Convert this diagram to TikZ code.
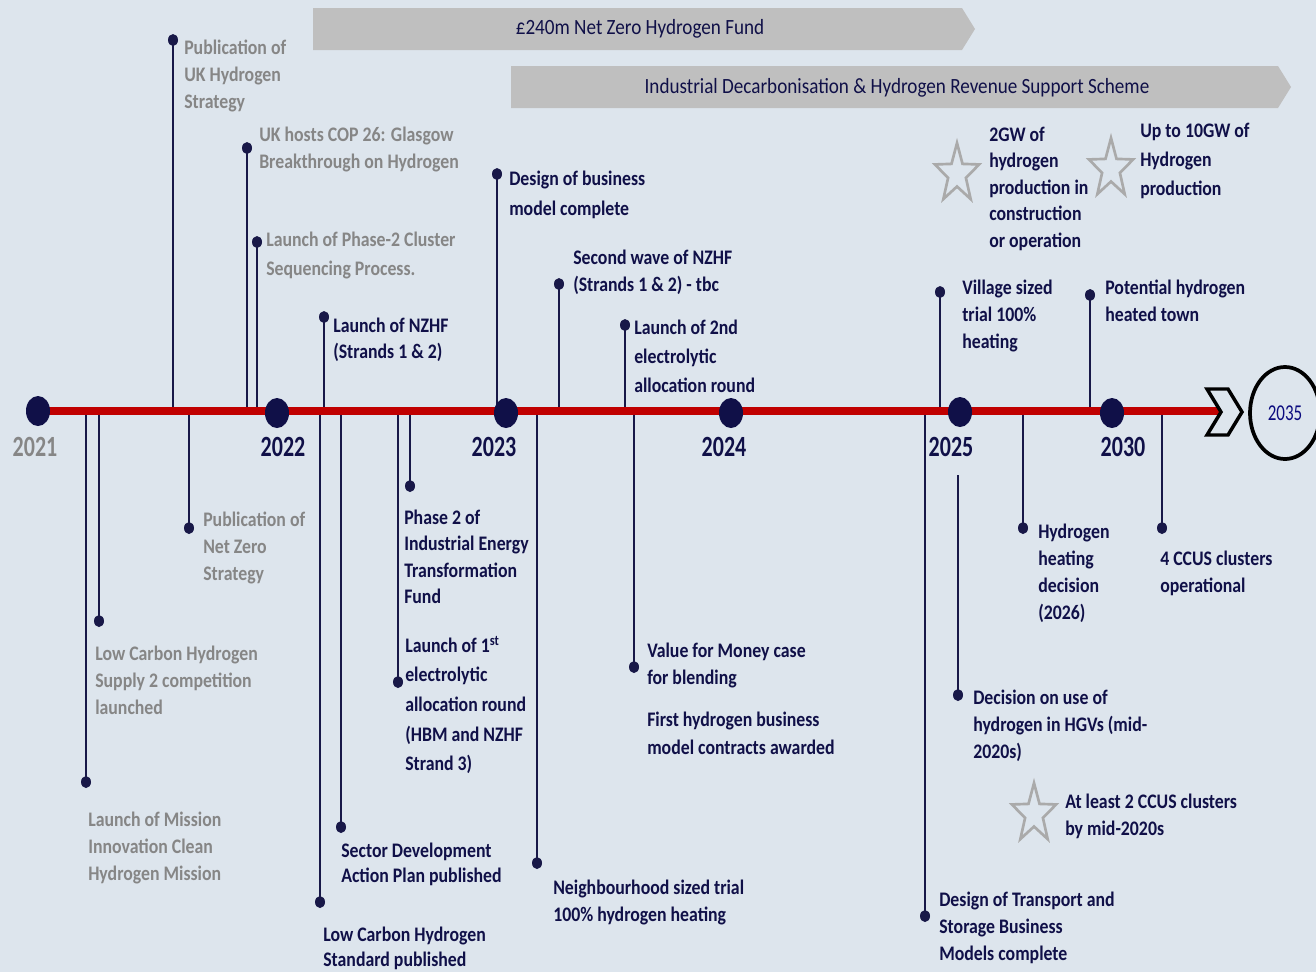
\documentclass[tikz,border=0pt]{standalone}
\usepackage{fontspec}
\setmainfont{Carlito}[FakeStretch=0.86]
\newfontfamily\yearfont{Carlito}[FakeStretch=0.75]
\newfontfamily\bannerfont{Carlito}[FakeStretch=0.88]
\definecolor{bg}{RGB}{221,229,237}
\definecolor{navy}{RGB}{16,16,72}
\definecolor{navyline}{RGB}{24,24,72}
\definecolor{graytext}{RGB}{134,134,134}
\definecolor{bannergray}{RGB}{191,191,191}
\definecolor{tlred}{RGB}{192,0,0}
\definecolor{stargray}{RGB}{170,170,170}
\newcommand{\ml}[1]{\begin{tabular}[t]{@{}l@{}}#1\end{tabular}}
\tikzset{
  conn/.style={draw=navyline, line width=1.5pt},
  lh/.style={font=\bfseries\fontsize{15.5}{#1}\selectfont},
  navytxt/.style={anchor=base west, inner sep=0pt, text=navy, lh=#1},
  graytxt/.style={anchor=base west, inner sep=0pt, text=graytext, lh=#1},
  yr/.style={inner sep=0pt, text=navy, font=\yearfont\bfseries\fontsize{22}{24}\selectfont},
  bannertxt/.style={inner sep=0pt, text=navy, font=\bannerfont\fontsize{16.3}{18}\selectfont},
  starline/.style={draw=stargray, line width=2pt, line join=miter},
  hstar/.pic={\draw[starline] (270:31) -- (306:12.5) -- (342:31) -- (18:12.5) -- (54:31) -- (90:12.5) -- (126:31) -- (162:12.5) -- (198:31) -- (234:12.5) -- cycle;}
}
\begin{document}
\begin{tikzpicture}[x=0.75pt, y=-0.75pt]
\fill[bg] (0,0) rectangle (1316,972);
\useasboundingbox (0,0) rectangle (1316,972);

% banners
\fill[bannergray] (313,8) -- (962,8) -- (975,29) -- (962,50) -- (313,50) -- cycle;
\node[bannertxt] (ban1) at (640,29) {£240m Net Zero Hydrogen Fund};
\fill[bannergray] (511,66) -- (1278,66) -- (1291,87) -- (1278,108) -- (511,108) -- cycle;
\node[bannertxt] (ban2) at (897,88) {Industrial Decarbonisation \& Hydrogen Revenue Support Scheme};

% main line points
\coordinate (m2021) at (38,411);
\coordinate (m2022) at (277,413);
\coordinate (m2023) at (506,413);
\coordinate (m2024) at (731,413);
\coordinate (m2025) at (960,412);
\coordinate (m2030) at (1112,413);
\coordinate (mend) at (1219,411);

% events
\foreach \n/\x/\y in {a1/173/40, a2/247/148, a3/257/242, a4/324/317, a5/497/174, a6/559/284, a7/625/325, a8/940/292, a9/1090/295,
  b1/86/782, b2/99/621, b3/189/528, b4/320/902, b5/341/827, b6/410/486, b7/398/682, b8/537/863, b9/634/667, b10/925/916, b12/1023/528, b13/1162/528}{
  \coordinate (\n base) at (\x,411);
  \coordinate (\n dot) at (\x,\y);
  \draw[conn] (\n base) -- (\n dot);
  \fill[navyline] (\n dot) ellipse [x radius=5, y radius=6];
}
\coordinate (b11top) at (958,475);
\coordinate (b11dot) at (958,695);
\draw[conn] (b11top) -- (b11dot);
\fill[navyline] (b11dot) ellipse [x radius=5, y radius=6];

% red timeline
\draw[tlred, line width=6pt] (m2021) -- (mend);
\foreach \m in {m2021,m2022,m2023,m2024,m2025,m2030}{
  \fill[navy] (\m) ellipse [x radius=12, y radius=15];
}
% chevron and 2035
\draw[black, line width=2.6pt, fill=bg, line join=miter] (1207,389) -- (1228,389) -- (1242,412) -- (1228,435) -- (1207,435) -- (1221,412) -- cycle;
\draw[black, line width=2.8pt] (1285,413) ellipse [x radius=35, y radius=46];
\node[inner sep=0pt, text=navy!70!blue, font=\yearfont\fontsize{17}{20}\selectfont] (y2035) at (1285,413) {2035};

% years
\node[yr, text=graytext] (y2021) at (35,447) {2021};
\node[yr] (y2022) at (283,447) {2022};
\node[yr] (y2023) at (494,447) {2023};
\node[yr] (y2024) at (724,447) {2024};
\node[yr] (y2025) at (951,447) {2025};
\node[yr] (y2030) at (1123,447) {2030};

% texts above
\node[graytxt=20.25pt] (a1t) at (184,54) {\ml{Publication of\\UK Hydrogen\\Strategy}};
\node[graytxt=20.25pt] (a2t) at (259,141) {\ml{UK hosts COP 26: Glasgow\\Breakthrough on Hydrogen}};
\node[graytxt=21.75pt] (a3t) at (266,246) {\ml{Launch of Phase-2 Cluster\\Sequencing Process.}};
\node[navytxt=19.5pt] (a4t) at (333,332) {\ml{Launch of NZHF\\(Strands 1 \& 2)}};
\node[navytxt=22.5pt] (a5t) at (509,185) {\ml{Design of business\\model complete}};
\node[navytxt=20.25pt] (a6t) at (573,264) {\ml{Second wave of NZHF\\(Strands 1 \& 2) - tbc}};
\node[navytxt=22pt] (a7t) at (634,334) {\ml{Launch of 2nd\\electrolytic\\allocation round}};
\node[navytxt=20.25pt] (a8t) at (962,294) {\ml{Village sized\\trial 100\%\\heating}};
\node[navytxt=20.25pt] (a9t) at (1105,294) {\ml{Potential hydrogen\\heated town}};

% stars
\pic[xscale=0.75] at (957,174) {hstar};
\node[navytxt=19.9pt] (s1t) at (989,141) {\ml{2GW of\\hydrogen\\production in\\construction\\or operation}};
\pic[xscale=0.75] at (1111,169) {hstar};
\node[navytxt=22pt] (s2t) at (1140,137) {\ml{Up to 10GW of\\Hydrogen\\production}};
\pic[xscale=0.75] at (1034,814) {hstar};
\node[navytxt=20.25pt] (s3t) at (1065,808) {\ml{At least 2 CCUS clusters\\by mid-2020s}};

% texts below
\node[graytxt=20.25pt] (b1t) at (88,826) {\ml{Launch of Mission\\Innovation Clean\\Hydrogen Mission}};
\node[graytxt=20.25pt] (b2t) at (95,660) {\ml{Low Carbon Hydrogen\\Supply 2 competition\\launched}};
\node[graytxt=20.25pt] (b3t) at (203,526) {\ml{Publication of\\Net Zero\\Strategy}};
\node[navytxt=18.75pt] (b4t) at (323,941) {\ml{Low Carbon Hydrogen\\Standard published}};
\node[navytxt=18.75pt] (b5t) at (341,857) {\ml{Sector Development\\Action Plan published}};
\node[navytxt=19.9pt] (b6t) at (404,524) {\ml{Phase 2 of\\Industrial Energy\\Transformation\\Fund}};
\node[navytxt=22.3pt] (b7t) at (405,652) {\ml{Launch of 1\textsuperscript{st}\\electrolytic\\allocation round\\(HBM and NZHF\\Strand 3)}};
\node[navytxt=20.25pt] (b8t) at (553,894) {\ml{Neighbourhood sized trial\\100\% hydrogen heating}};
\node[navytxt=20.25pt] (b9t) at (647,657) {\ml{Value for Money case\\for blending}};
\node[navytxt=21pt] (b9u) at (647,726) {\ml{First hydrogen business\\model contracts awarded}};
\node[navytxt=20.25pt] (b10t) at (939,906) {\ml{Design of Transport and\\Storage Business\\Models complete}};
\node[navytxt=20.25pt] (b11t) at (973,704) {\ml{Decision on use of\\hydrogen in HGVs (mid-\\2020s)}};
\node[navytxt=20.25pt] (b12t) at (1038,538) {\ml{Hydrogen\\heating\\decision\\(2026)}};
\node[navytxt=20.25pt] (b13t) at (1160,565) {\ml{4 CCUS clusters\\operational}};
\end{tikzpicture}
\end{document}
